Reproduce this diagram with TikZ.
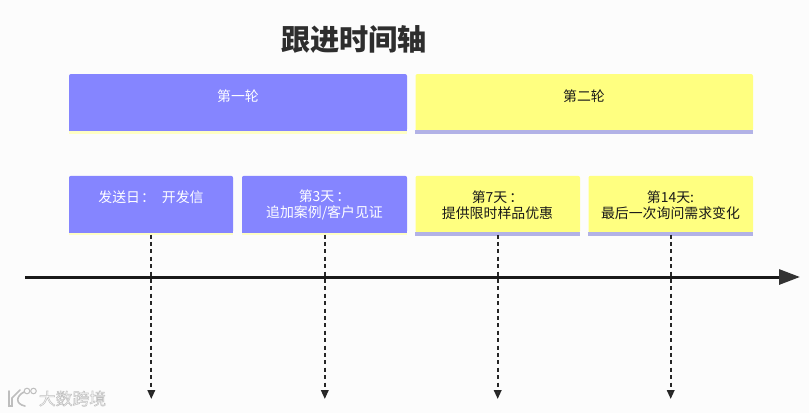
\documentclass[tikz,border=0pt]{standalone}
\usepackage{fontspec}
\usetikzlibrary{arrows.meta}
\setmainfont{Noto Sans CJK SC}
\definecolor{bg}{HTML}{FCFCFC}
\definecolor{pur}{HTML}{8585FF}
\definecolor{yel}{HTML}{FFFF80}
\definecolor{purline}{HTML}{B2B2E6}
\definecolor{yelline}{HTML}{FFFFC4}
\definecolor{wm}{HTML}{BEBEBE}
\tikzset{
  box/.style={rectangle,rounded corners=2pt,inner sep=0pt,minimum height=57pt,draw=none},
  bluebox/.style={box,fill=pur},
  yellowbox/.style={box,fill=yel},
  wtext/.style={text=white,font=\fontsize{13.9pt}{16.2pt}\selectfont,align=center,inner sep=0pt},
  ktext/.style={text=black!90,font=\fontsize{13.9pt}{16.2pt}\selectfont,align=center,inner sep=0pt},
  guide/.style={draw=black!85,line width=1.9pt,dash pattern=on 4pt off 3.4pt,-{Triangle[length=9pt,width=7.5pt,fill=black!80]}},
  axisline/.style={draw=black!90,line width=3pt,-{Triangle[length=21pt,width=15pt,fill=black!80,color=black!80]}},
  wmlogo/.style={draw=wm,line width=1.6pt,line cap=round}
}
\begin{document}
\begin{tikzpicture}[x=1pt,y=-1pt]
\path[fill=bg] (0,0) rectangle (809,413);
\useasboundingbox (0,0) rectangle (809,413);
\node[font=\fontsize{29.2pt}{32pt}\selectfont\bfseries,text=black!82,inner sep=0pt] (title) at (354,39) {跟进时间轴};
\node[bluebox,minimum width=338pt] (r1) at (238,102.5) {};
\node[yellowbox,minimum width=337.5pt] (r2) at (584.25,102.5) {};
\node[bluebox,minimum width=164pt] (d1) at (151,204.3) {};
\node[bluebox,minimum width=165pt] (d2) at (324.5,204.3) {};
\node[yellowbox,minimum width=164.5pt] (d3) at (497.75,204.3) {};
\node[yellowbox,minimum width=164.5pt] (d4) at (670.75,204.3) {};
\fill[pur] (r1.south west) ++(0,-4) rectangle ++(338,4);
\fill[pur] (d1.south west) ++(0,-4) rectangle ++(164,4);
\fill[pur] (d2.south west) ++(0,-4) rectangle ++(165,4);
\fill[yelline] (r1.south west) rectangle ++(338,2.3);
\fill[purline] (r2.south west) ++(0,-1) rectangle ++(337.5,3.5);
\fill[yelline] (d1.south west) rectangle ++(164,2.3);
\fill[yelline] (d2.south west) rectangle ++(165,2.3);
\fill[purline] (d3.south west) ++(0,-1) rectangle ++(164.5,3.5);
\fill[purline] (d4.south west) ++(0,-1) rectangle ++(164.5,3.5);
\node[wtext] (r1t) at (238,96) {第一轮};
\node[ktext] (r2t) at (584,96) {第二轮};
\node[wtext] (d1t) at (151,197) {发送日\hspace{1pt}：\hspace{7pt}开发信};
\node[wtext] (d2t) at (324.5,205) {第3天\hspace{2pt}：\\追加案例/客户见证};
\node[ktext] (d3t) at (497.5,205) {第7天\hspace{2pt}：\\提供限时样品优惠};
\node[ktext] (d4t) at (670.5,205) {第14天:\\最后一次询问需求变化};
\coordinate (e1) at (151.3,399);
\coordinate (e2) at (324.8,399);
\coordinate (e3) at (497.7,399);
\coordinate (e4) at (670.7,399);
\draw[guide] (d1.south -| e1) ++(0,1.5) -- (e1);
\draw[guide] (d2.south -| e2) ++(0,1.5) -- (e2);
\draw[guide] (d3.south -| e3) ++(0,1.5) -- (e3);
\draw[guide] (d4.south -| e4) ++(0,1.5) -- (e4);
\coordinate (a0) at (25,277);
\coordinate (a1) at (800,277);
\draw[axisline] (a0) -- (a1);
% watermark
\draw[wmlogo] (9,391) -- (9,406) -- (12,406) -- (12,398) -- (20,390);
\draw[wmlogo] (24,392) .. controls (16,396) and (15,404) .. (25,406);
\draw[wm,line width=1pt] (27,391) circle (2.8);
\draw[wm,line width=1pt] (33.5,391) circle (2.8);
\node[inner sep=0pt,text=wm,font=\fontsize{16.8pt}{18pt}\selectfont] (wmk) at (72.5,398.5) {\special{pdf:code q 1 Tr 0.5 w 0.75 G}大数跨境\special{pdf:code 0 Tr Q}};
\end{tikzpicture}
\end{document}
